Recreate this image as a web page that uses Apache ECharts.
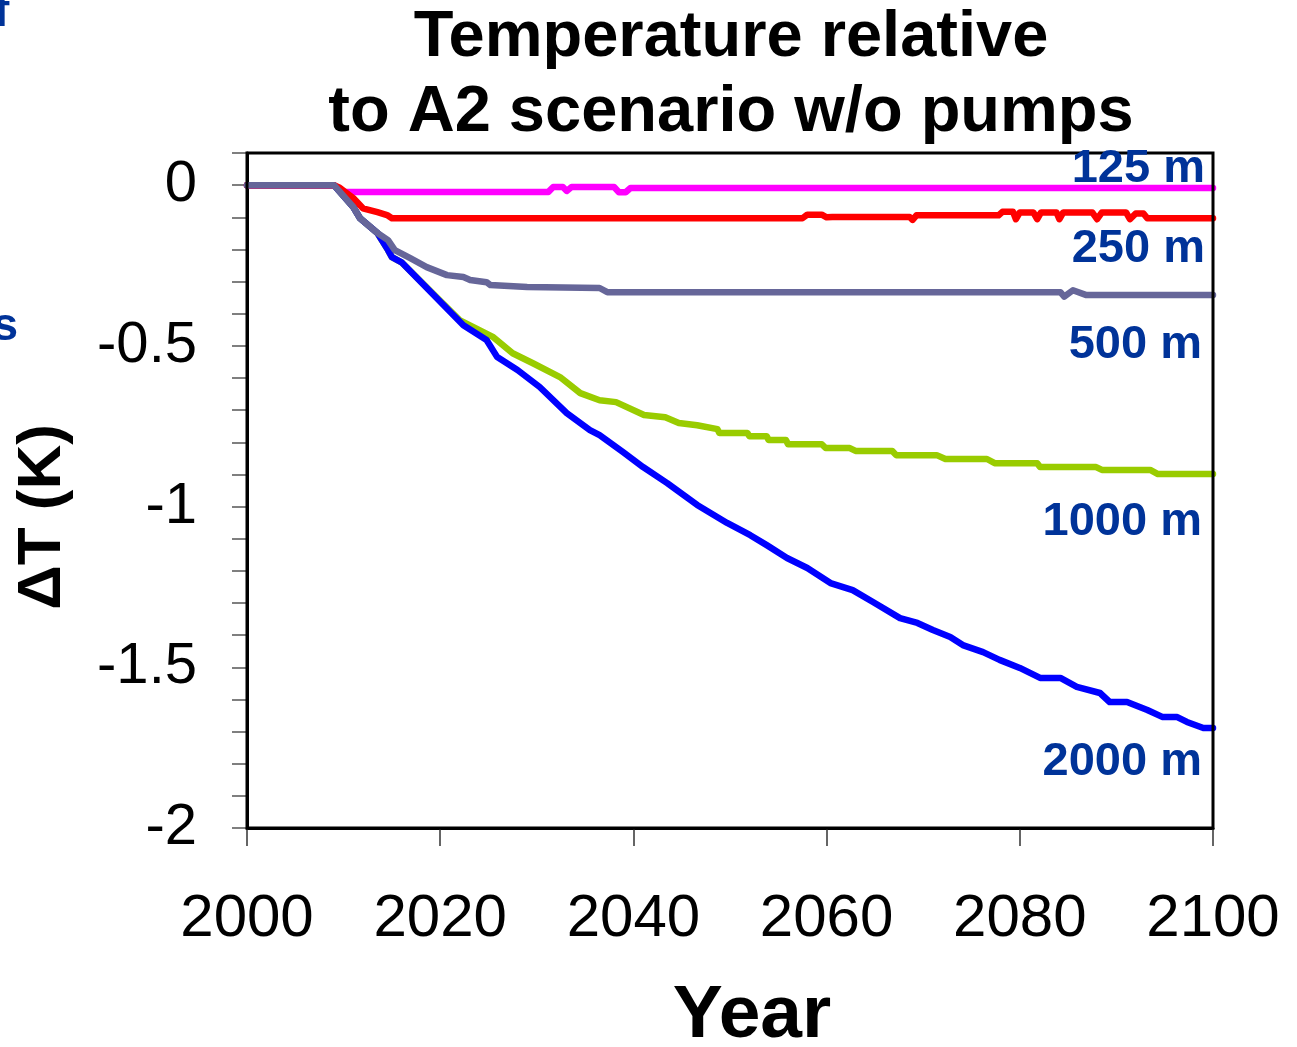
<!DOCTYPE html>
<html>
<head>
<meta charset="utf-8">
<script src="https://cdn.jsdelivr.net/npm/echarts@6/dist/echarts.min.js"></script>
<style>
  html, body { margin: 0; padding: 0; background: #fff; }
  #chart { width: 1297px; height: 1047px; }
</style>
</head>
<body>
<div id="chart"></div>
<script>
// Temperature change relative to the A2 scenario without pumps, by pump depth.

// 125 m
const years125 = [2000, 2009, 2010.1, 2031.2, 2031.7, 2032.7, 2033.1, 2033.6, 2038.0, 2038.5, 2039.2, 2039.7, 2100];
const dT125 = [0, 0, -0.021, -0.021, -0.006, -0.006, -0.018, -0.006, -0.006, -0.022, -0.022, -0.009, -0.009];

// 250 m
const years250 = [2000, 2009, 2009.6, 2011.0, 2012.0, 2013.5, 2014.5, 2015.0, 2057.5, 2058.0, 2059.5, 2060.0, 2060.6,
  2068.6, 2068.9, 2069.3, 2077.8, 2078.2, 2079.3, 2079.6, 2080.0, 2081.4, 2081.8, 2082.2, 2083.8, 2084.1, 2084.5,
  2087.5, 2088.0, 2088.5, 2091.0, 2091.4, 2092.0, 2092.8, 2093.2, 2100];
const dT250 = [0, 0, -0.008, -0.04, -0.072, -0.084, -0.093, -0.103, -0.103, -0.092, -0.092, -0.1, -0.099,
  -0.099, -0.108, -0.094, -0.094, -0.083, -0.083, -0.106, -0.085, -0.085, -0.106, -0.085, -0.085, -0.106, -0.085,
  -0.085, -0.106, -0.085, -0.085, -0.106, -0.088, -0.088, -0.103, -0.103];

// 500 m
const years500 = [2000, 2009, 2011.0, 2011.7, 2013.5, 2014.6, 2015.3, 2016.9, 2018.6, 2020.7, 2022.4, 2023.1, 2024.8,
  2025.2, 2029.0, 2036.5, 2037.3, 2084.2, 2084.6, 2085.5, 2086.9, 2100];
const dT500 = [0, 0, -0.068, -0.103, -0.149, -0.171, -0.202, -0.227, -0.255, -0.28, -0.286, -0.295, -0.302,
  -0.311, -0.317, -0.32, -0.333, -0.333, -0.347, -0.327, -0.342, -0.342];

// 1000 m
const years1000 = [2000, 2009, 2011.0, 2011.7, 2013.5, 2014.6, 2015.0, 2016.0, 2022.0, 2025.5, 2027.5, 2029.6, 2032.4,
  2034.5, 2036.5, 2038.2, 2041.1, 2043.3, 2044.7, 2046.6, 2048.7, 2048.9, 2051.8, 2052.0, 2053.8, 2054.0, 2055.8,
  2056.0, 2059.5, 2059.9, 2062.4, 2063.0, 2066.8, 2067.2, 2071.4, 2072.3, 2076.6, 2077.4, 2081.8, 2082.1, 2087.9,
  2088.5, 2093.5, 2094.3, 2100];
const dT1000 = [0, 0, -0.068, -0.103, -0.149, -0.202, -0.224, -0.24, -0.42, -0.473, -0.523, -0.554, -0.597,
  -0.647, -0.669, -0.675, -0.715, -0.722, -0.74, -0.747, -0.759, -0.771, -0.771, -0.781, -0.781, -0.793, -0.793,
  -0.806, -0.806, -0.818, -0.818, -0.827, -0.827, -0.84, -0.84, -0.852, -0.852, -0.865, -0.865, -0.877, -0.877,
  -0.886, -0.886, -0.899, -0.899];

// 2000 m
const years2000 = [2000, 2009, 2011.0, 2011.7, 2013.5, 2014.6, 2015.0, 2016.0, 2022.4, 2024.8, 2025.9, 2028.0, 2030.3,
  2033.1, 2035.5, 2036.5, 2038.9, 2041.0, 2043.5, 2046.6, 2049.7, 2052.1, 2053.8, 2055.9, 2058.0, 2060.4, 2062.7,
  2064.8, 2067.6, 2069.4, 2071.0, 2072.8, 2074.1, 2076.2, 2077.9, 2080.0, 2082.1, 2084.2, 2085.9, 2088.3, 2089.3,
  2091.1, 2093.2, 2094.8, 2096.3, 2097.3, 2099.0, 2100];
const dT2000 = [0, 0, -0.068, -0.103, -0.149, -0.202, -0.224, -0.24, -0.436, -0.482, -0.535, -0.575, -0.628,
  -0.709, -0.762, -0.778, -0.83, -0.877, -0.927, -0.995, -1.051, -1.089, -1.12, -1.16, -1.191, -1.238, -1.26,
  -1.297, -1.347, -1.362, -1.384, -1.406, -1.431, -1.453, -1.477, -1.502, -1.533, -1.533, -1.561, -1.58, -1.608,
  -1.608, -1.633, -1.655, -1.655, -1.67, -1.689, -1.689];

const depthLabels = ['125 m', '250 m', '500 m', '1000 m', '2000 m'];
const xTicks = [2000, 2020, 2040, 2060, 2080, 2100];
const yTickLabels = [0, -0.5, -1, -1.5, -2];

const FONT = '"Liberation Sans", Arial, sans-serif';
const LABEL_BLUE = '#003399';

function pairs(xs, ys) { return xs.map((x, i) => [x, ys[i]]); }

function line(name, xs, ys, color) {
  return {
    name, type: 'line', data: pairs(xs, ys),
    showSymbol: false, symbol: 'none', smooth: false,
    lineStyle: { color, width: 6.5, cap: 'round', join: 'round' },
    emphasis: { disabled: true }
  };
}

function text(str, x, y, font, fill, align, vAlign, rotation) {
  return {
    type: 'text', x, y, rotation: rotation || 0, z: 100,
    style: { text: str, font, fill, align, verticalAlign: vAlign, textAlign: align, textVerticalAlign: vAlign }
  };
}

const chart = echarts.init(document.getElementById('chart'), null, { renderer: 'canvas' });

chart.setOption({
  animation: false,
  backgroundColor: '#fff',
  grid: {
    left: 247, right: 84, top: 153, bottom: 219,
    outerBoundsMode: 'none', containLabel: false,
    show: true, borderColor: '#000', borderWidth: 3, backgroundColor: 'transparent', z: 10
  },
  xAxis: {
    type: 'value', min: xTicks[0], max: xTicks[xTicks.length - 1], interval: 20,
    axisLine: { show: true, onZero: false, lineStyle: { color: '#000', width: 3 } },
    axisTick: { show: true, inside: false, length: 18, lineStyle: { color: '#333', width: 1.5 } },
    axisLabel: {
      show: true, margin: 61, color: '#000', fontSize: 60, fontFamily: FONT,
      formatter: v => xTicks.includes(v) ? String(v) : ''
    },
    splitLine: { show: false }
  },
  yAxis: {
    type: 'value', min: -2, max: 0.1, interval: 0.1,
    axisLine: { show: true, onZero: false, lineStyle: { color: '#000', width: 3 } },
    axisTick: { show: true, inside: false, length: 15, lineStyle: { color: '#555', width: 1.5 } },
    axisLabel: {
      show: true, margin: 50, color: '#000', fontSize: 58, fontFamily: FONT,
      formatter: v => {
        const hit = yTickLabels.find(t => Math.abs(t - v) < 1e-6);
        return hit === undefined ? '' : String(hit);
      }
    },
    splitLine: { show: false }
  },
  series: [
    line(depthLabels[3], years1000, dT1000, '#99cc00'),
    line(depthLabels[4], years2000, dT2000, '#0000ff'),
    line(depthLabels[0], years125, dT125, '#ff00ff'),
    line(depthLabels[1], years250, dT250, '#ff0000'),
    line(depthLabels[2], years500, dT500, '#666699')
  ],
  graphic: [
    text('Temperature relative', 731, 38, 'bold 65px ' + FONT, '#000', 'center', 'middle'),
    text('to A2 scenario w/o pumps', 731, 113, 'bold 65px ' + FONT, '#000', 'center', 'middle'),
    text('\u0394T (K)', 43, 517, 'bold 62px ' + FONT, '#000', 'center', 'middle', Math.PI / 2),
    text('Year', 752, 1016, 'bold 75px ' + FONT, '#000', 'center', 'middle'),
    text(depthLabels[0], 1205, 169, 'bold 47px ' + FONT, LABEL_BLUE, 'right', 'middle'),
    text(depthLabels[1], 1205, 249, 'bold 47px ' + FONT, LABEL_BLUE, 'right', 'middle'),
    text(depthLabels[2], 1202, 345, 'bold 47px ' + FONT, LABEL_BLUE, 'right', 'middle'),
    text(depthLabels[3], 1202, 522, 'bold 47px ' + FONT, LABEL_BLUE, 'right', 'middle'),
    text(depthLabels[4], 1202, 762, 'bold 47px ' + FONT, LABEL_BLUE, 'right', 'middle'),
    text('f', -6, 13, 'bold 46px ' + FONT, LABEL_BLUE, 'left', 'middle'),
    text('s', 18, 327, 'bold 46px ' + FONT, LABEL_BLUE, 'right', 'middle')
  ]
});
</script>
</body>
</html>
